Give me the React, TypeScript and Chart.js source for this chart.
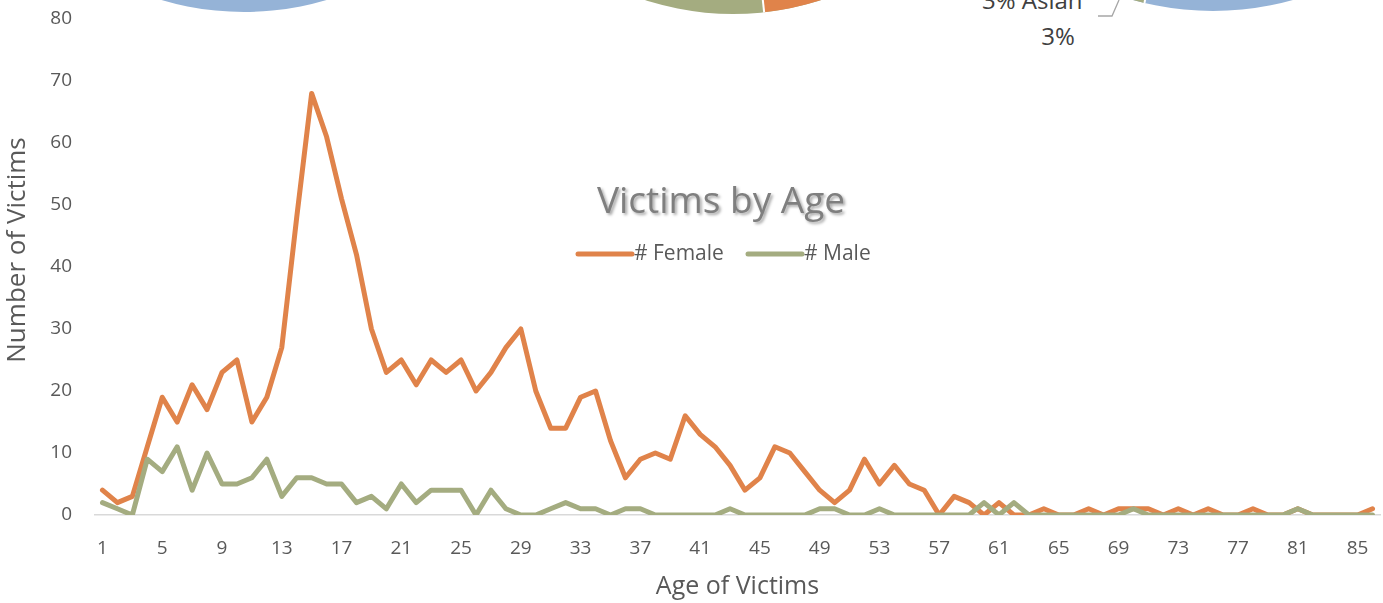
import React, { useEffect, useRef } from "react";
import { Chart, registerables } from "chart.js";

Chart.register(...registerables);

// ---------- DATA ----------
const ages: string[] = [
  "1","2","3","4","5","6","7","8","9","10","11","12","13","14","15","16","17","18","19","20",
  "21","22","23","24","25","26","27","28","29","30","31","32","33","34","35","36","37","38","39","40",
  "41","42","43","44","45","46","47","48","49","50","51","52","53","54","55","56","57","58","59","60",
  "61","62","63","64","65","66","67","68","69","70","71","72","73","74","75","76","77","78","79","80",
  "81","82","83","84","85","86",
];

const femaleVictims: number[] = [
  4, 2, 3, 11, 19, 15, 21, 17, 23, 25, 15, 19, 27, 48, 68, 61, 51, 42, 30, 23,
  25, 21, 25, 23, 25, 20, 23, 27, 30, 20, 14, 14, 19, 20, 12, 6, 9, 10, 9, 16,
  13, 11, 8, 4, 6, 11, 10, 7, 4, 2, 4, 9, 5, 8, 5, 4, 0, 3, 2, 0,
  2, 0, 0, 1, 0, 0, 1, 0, 1, 1, 1, 0, 1, 0, 1, 0, 0, 1, 0, 0,
  1, 0, 0, 0, 0, 1,
];

const maleVictims: number[] = [
  2, 1, 0, 9, 7, 11, 4, 10, 5, 5, 6, 9, 3, 6, 6, 5, 5, 2, 3, 1,
  5, 2, 4, 4, 4, 0, 4, 1, 0, 0, 1, 2, 1, 1, 0, 1, 1, 0, 0, 0,
  0, 0, 1, 0, 0, 0, 0, 0, 1, 1, 0, 0, 1, 0, 0, 0, 0, 0, 0, 2,
  0, 2, 0, 0, 0, 0, 0, 0, 0, 1, 0, 0, 0, 0, 0, 0, 0, 0, 0, 0,
  1, 0, 0, 0, 0, 0,
];

const xTickLabels: string[] = [
  "1","5","9","13","17","21","25","29","33","37","41","45","49","53","57","61","65","69","73","77","81","85",
];

const seriesNames: string[] = ["# Female", "# Male"];
const chartTitle = "Victims by Age";
const xAxisTitle = "Age of Victims";
const yAxisTitle = "Number of Victims";
const yMin = 0;
const yMax = 80;
const yStep = 10;

// ---------- STYLE ----------
const ORANGE = "#E0834A";
const GREEN = "#A4AC80";
const BLUE = "#95B3D7";
const TEXT = "#595959";
const FONT = "'Open Sans', 'DejaVu Sans', sans-serif";

const overlayPlugin = {
  id: "overlay",
  afterDraw(chart: any) {
    const ctx = chart.ctx as CanvasRenderingContext2D;
    ctx.save();
    // Title with shadow
    ctx.font = `37px ${FONT}`;
    ctx.textAlign = "center";
    ctx.textBaseline = "middle";
    ctx.shadowColor = "rgba(0,0,0,0.35)";
    ctx.shadowBlur = 3;
    ctx.shadowOffsetX = 2;
    ctx.shadowOffsetY = 2;
    ctx.fillStyle = "#7F7F7F";
    ctx.fillText(chartTitle, 721, 202);
    ctx.restore();

    // Legend
    ctx.save();
    ctx.font = `21px ${FONT}`;
    ctx.textBaseline = "middle";
    ctx.textAlign = "left";
    const starts = [578, 748];
    chart.data.datasets.forEach((ds: any, i: number) => {
      const x0 = starts[i];
      ctx.strokeStyle = ds.borderColor;
      ctx.lineWidth = 5;
      ctx.lineCap = "round";
      ctx.beginPath();
      ctx.moveTo(x0, 254);
      ctx.lineTo(x0 + 54, 254);
      ctx.stroke();
      ctx.fillStyle = TEXT;
      ctx.fillText(ds.label, x0 + 56, 254);
    });
    ctx.restore();

    // Y axis title
    ctx.save();
    ctx.translate(18, 250);
    ctx.rotate(-Math.PI / 2);
    ctx.font = `26px ${FONT}`;
    ctx.fillStyle = TEXT;
    ctx.textAlign = "center";
    ctx.textBaseline = "middle";
    ctx.fillText(yAxisTitle, 0, 0);
    ctx.restore();
  },
};

function wedge(cx: number, cy: number, r: number, a0: number, a1: number) {
  const rad = (d: number) => (d * Math.PI) / 180;
  const x0 = cx + r * Math.cos(rad(a0));
  const y0 = cy + r * Math.sin(rad(a0));
  const x1 = cx + r * Math.cos(rad(a1));
  const y1 = cy + r * Math.sin(rad(a1));
  const large = Math.abs(a1 - a0) > 180 ? 1 : 0;
  const sweep = a1 > a0 ? 1 : 0;
  return `M${cx},${cy} L${x0},${y0} A${r},${r} 0 ${large} ${sweep} ${x1},${y1} Z`;
}

function sepLine(cx: number, cy: number, r: number, a: number) {
  const rad = (a * Math.PI) / 180;
  return `M${cx},${cy} L${cx + r * Math.cos(rad)},${cy + r * Math.sin(rad)}`;
}

export default function App() {
  const canvasRef = useRef<HTMLCanvasElement | null>(null);

  useEffect(() => {
    if (!canvasRef.current) return;
    const chart = new Chart(canvasRef.current, {
      type: "line",
      data: {
        labels: ages,
        datasets: [
          {
            label: seriesNames[0],
            data: femaleVictims,
            borderColor: ORANGE,
            backgroundColor: ORANGE,
            borderWidth: 5,
            pointRadius: 0,
            tension: 0,
            borderJoinStyle: "round",
            borderCapStyle: "round",
            order: 1,
          },
          {
            label: seriesNames[1],
            data: maleVictims,
            borderColor: GREEN,
            backgroundColor: GREEN,
            borderWidth: 5,
            pointRadius: 0,
            tension: 0,
            borderJoinStyle: "round",
            borderCapStyle: "round",
            order: 0,
          },
        ],
      },
      options: {
        responsive: true,
        maintainAspectRatio: false,
        animation: false,
        layout: { padding: { top: 19, right: 3, left: 0, bottom: 0 } },
        plugins: {
          legend: { display: false },
          title: { display: false },
          tooltip: { enabled: false },
        },
        scales: {
          x: {
            type: "category",
            offset: true,
            grid: { display: false, drawTicks: false },
            border: { display: true, color: "#D9D9D9", width: 1.5 },
            ticks: {
              autoSkip: false,
              maxRotation: 0,
              minRotation: 0,
              padding: 22,
              color: TEXT,
              font: { family: FONT, size: 19 },
              callback: (_v: any, i: number) =>
                xTickLabels.includes(ages[i]) ? ages[i] : "",
            },
            title: {
              display: true,
              text: xAxisTitle,
              color: TEXT,
              font: { family: FONT, size: 25 },
              padding: { top: 0, bottom: 1 },
            },
            afterFit: (s: any) => {
              s.height = 88;
              s.paddingLeft = 0;
              s.paddingRight = 0;
            },
          },
          y: {
            min: yMin,
            max: yMax,
            grid: { display: false, drawTicks: false },
            border: { display: false },
            ticks: {
              stepSize: yStep,
              padding: 23,
              color: TEXT,
              font: { family: FONT, size: 19 },
            },
            afterFit: (s: any) => {
              s.width = 95;
              s.paddingTop = 0;
              s.paddingBottom = 0;
            },
          },
        },
      },
      plugins: [overlayPlugin],
    } as any);
    return () => chart.destroy();
  }, []);

  // decorative fragments of neighbouring pie charts (cropped at the top)
  const p1 = { cx: 244, cy: -278, r: 290 };
  const p2 = { cx: 733, cy: -270, r: 284 };
  const p3 = { cx: 1213, cy: -285, r: 296 };

  return (
    <div
      style={{
        position: "fixed",
        left: 0,
        top: 0,
        width: 1383,
        height: 603,
        background: "#fff",
        overflow: "hidden",
      }}
    >
      <svg
        width={1383}
        height={603}
        style={{ position: "absolute", left: 0, top: 0 }}
      >
        <circle cx={p1.cx} cy={p1.cy} r={p1.r} fill={BLUE} />
        <circle cx={p2.cx} cy={p2.cy} r={p2.r} fill={GREEN} />
        <path d={wedge(p2.cx, p2.cy, p2.r, 83.7, 40)} fill={ORANGE} />
        <path d={sepLine(p2.cx, p2.cy, p2.r, 83.7)} stroke="#fff" strokeWidth={2} />
        <circle cx={p3.cx} cy={p3.cy} r={p3.r} fill={BLUE} />
        <path d={wedge(p3.cx, p3.cy, p3.r, 103.4, 112)} fill={GREEN} />
        <path d={sepLine(p3.cx, p3.cy, p3.r, 103.4)} stroke="#fff" strokeWidth={2} />
        <polyline
          points="1098,16 1112,16 1119,0"
          fill="none"
          stroke="#A6A6A6"
          strokeWidth={1.3}
        />
        <text x={982} y={9} fontFamily="Open Sans" fontSize={24} fill="#404040">
          3% Asian
        </text>
        <text
          x={1058}
          y={45}
          fontFamily="Open Sans"
          fontSize={24}
          fill="#404040"
          textAnchor="middle"
        >
          3%
        </text>
      </svg>
      <canvas
        ref={canvasRef}
        style={{ position: "absolute", left: 0, top: 0, width: 1383, height: 603 }}
      />
    </div>
  );
}
